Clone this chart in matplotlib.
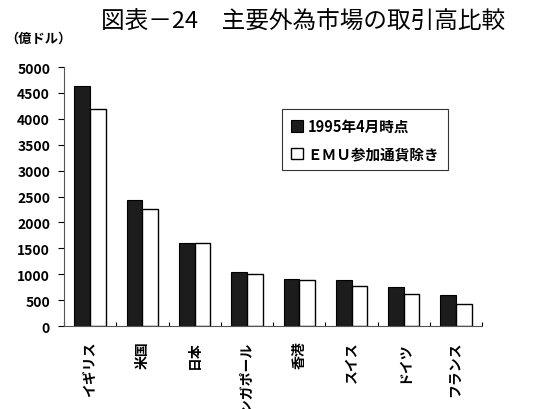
import matplotlib
matplotlib.use('Agg')
import matplotlib.pyplot as plt
import numpy as np

plt.rcParams['font.family'] = ['Noto Sans CJK JP', 'DejaVu Sans']

# data (unit: 100 million dollars)
markets = ['イギリス', '米国', '日本', 'シンガポール', '香港', 'スイス', 'ドイツ', 'フランス']
apr_1995 = [4640, 2440, 1600, 1050, 910, 880, 760, 590]
excl_emu = [4180, 2260, 1600, 1010, 890, 780, 610, 420]
yticks = list(range(0, 5001, 500))

fig = plt.figure(figsize=(5.35, 4.10), dpi=100)
ax = fig.add_axes([0.1196, 0.2024, 0.7817, 0.6317])

x = np.arange(len(markets))
w = 0.3
ax.bar(x - w / 2, apr_1995, w, color='#1c1c1c', edgecolor='black', linewidth=0.8,
       label='1995年4月時点')
ax.bar(x + w / 2, excl_emu, w, color='white', edgecolor='black', linewidth=1.0,
       label='ＥＭＵ参加通貨除き')

ax.set_xlim(-0.5, len(markets) - 0.5)
ax.set_ylim(0, 5000)
ax.set_yticks(yticks)
ax.set_yticklabels([str(t) for t in yticks], fontsize=10, fontweight='bold')
ax.tick_params(axis='y', direction='out', length=4, width=0.8, pad=6)

ax.set_xticks(x)
ax.set_xticklabels([])
ax.tick_params(axis='x', which='major', length=0)
ax.set_xticks(np.arange(len(markets) + 1) - 0.5, minor=True)
ax.tick_params(axis='x', which='minor', direction='in', length=3, width=0.8)

# vertical category labels, running off the bottom edge as in the original
for i, name in enumerate(markets):
    ax.text(i, -280, name, rotation=90, ha='center', va='top', fontsize=10,
            fontweight='bold')

ax.spines['top'].set_visible(False)
ax.spines['right'].set_visible(False)
ax.spines['left'].set_color('#555555')
ax.spines['bottom'].set_color('#555555')

leg = ax.legend(loc='upper left', bbox_to_anchor=(0.505, 0.865),
                frameon=True, fancybox=False, shadow=False, handlelength=0.8,
                handleheight=0.8, handletextpad=0.3, labelspacing=0.8,
                borderpad=0.6, prop={'weight': 'bold', 'size': 10.5})
leg.get_frame().set_edgecolor('black')
leg.get_frame().set_linewidth(0.8)

fig.text(0.567, 0.945, '図表－24　主要外為市場の取引高比較', ha='center', va='center',
         fontsize=17)
fig.text(0.01, 0.905, '（億ドル）', ha='left', va='center', fontsize=9.5,
         fontweight='bold')

fig.savefig('out.png', dpi=100)
